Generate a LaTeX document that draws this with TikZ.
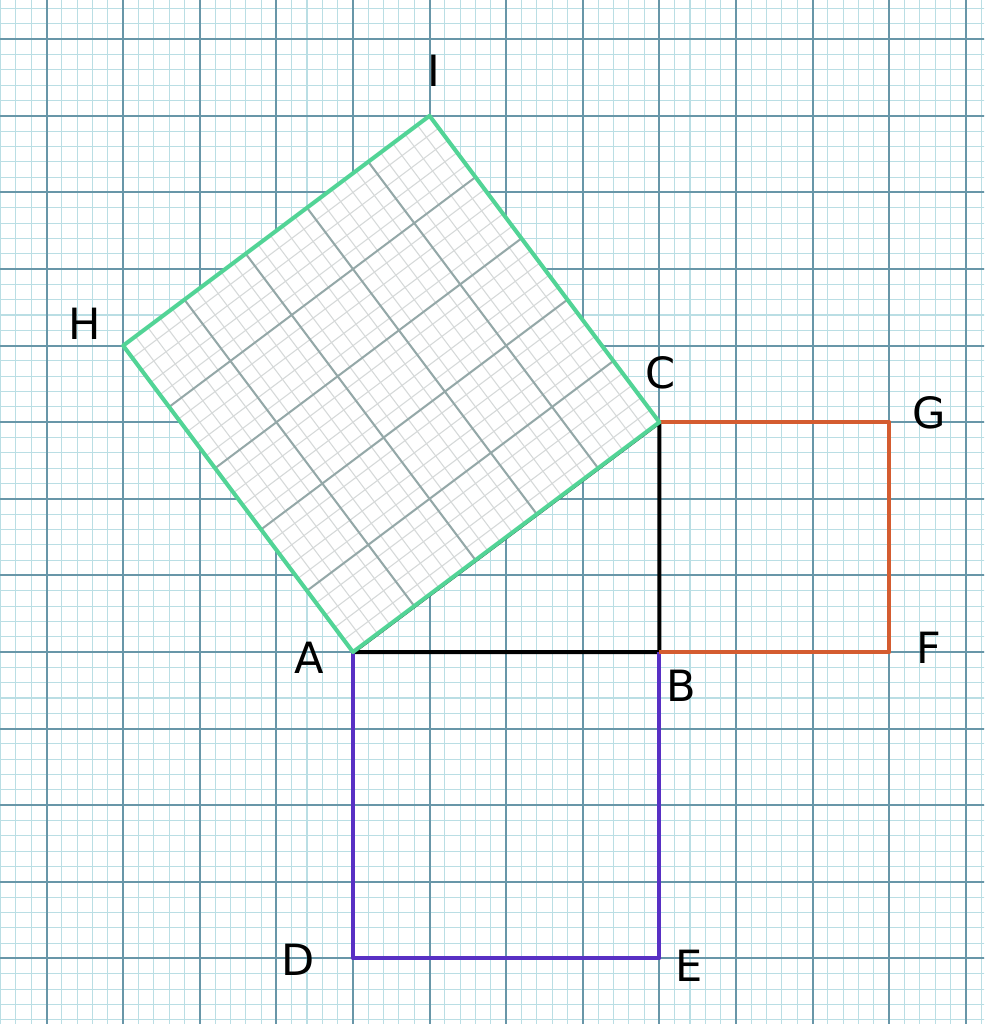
\documentclass[tikz,border=0pt]{standalone}
\usepackage{fontspec}
\setmainfont{DejaVu Sans}
\usepackage{tikz}
\usetikzlibrary{positioning, calc}
\definecolor{minorcyan}{RGB}{186,222,228}
\definecolor{majorteal}{RGB}{104,150,168}
\definecolor{minorgray}{RGB}{214,217,217}
\definecolor{majorgray}{RGB}{148,168,168}
\definecolor{sqgreen}{RGB}{82,212,150}
\definecolor{sqpurple}{RGB}{88,48,196}
\definecolor{sqorange}{RGB}{212,92,48}
\tikzset{
  vertex/.style={font=\fontsize{16}{16}\selectfont, inner sep=0pt},
  side/.style={line width=1.5pt, line join=round},
  minorline/.style={line width=0.4pt},
  majorline/.style={line width=0.75pt},
}

\begin{document}
\begin{tikzpicture}
  \useasboundingbox (-4.608,-4.856) rectangle (8.238,8.512);
  \clip (-4.608,-4.856) rectangle (8.238,8.512);
  % graph paper
  \fill[white] (-4.608,-4.856) rectangle (8.238,8.512);
  \foreach \k in {-24,...,42} {
    \draw[minorcyan, minorline] (\k/5,-5) -- (\k/5,8.6);
  }
  \foreach \k in {-25,...,43} {
    \draw[minorcyan, minorline] (-4.8,\k/5) -- (8.4,\k/5);
  }
  \foreach \k in {-4,...,8} {
    \draw[majorteal, majorline] (\k,-5) -- (\k,8.6);
  }
  \foreach \k in {-4,...,8} {
    \draw[majorteal, majorline] (-4.8,\k) -- (8.4,\k);
  }

  % corners
  \coordinate (A) at (0,0);
  \coordinate (B) at (4,0);
  \coordinate (C) at (4,3);
  \coordinate (D) at (0,-4);
  \coordinate (E) at (4,-4);
  \coordinate (F) at (7,0);
  \coordinate (G) at (7,3);
  \coordinate (H) at (-3,4);
  \coordinate (I) at (1,7);

  % right triangle and the two small squares
  \draw[side, black] (A) -- (B) -- (C) -- cycle;
  \draw[side, sqpurple] (A) -- (D) -- (E) -- (B);
  \draw[side, sqorange] (B) -- (F) -- (G) -- (C);

  % square on the hypotenuse
  \begin{scope}[rotate={atan(3/4)}]
    \fill[white] (0,0) rectangle (5,5);
    \foreach \k in {1,...,24} {
      \draw[minorgray, minorline] (\k/5,0) -- (\k/5,5);
      \draw[minorgray, minorline] (0,\k/5) -- (5,\k/5);
    }
    \foreach \k in {1,...,4} {
      \draw[majorgray, majorline] (\k,0) -- (\k,5);
      \draw[majorgray, majorline] (0,\k) -- (5,\k);
    }
  \end{scope}
  \draw[side, sqgreen] (A) -- (C) -- (I) -- (H) -- cycle;

  % labels
  \node[vertex] (labA) at (-0.57,-0.07) {A};
  \node[vertex] (labB) at (4.28,-0.44) {B};
  \node[vertex] (labC) at (4.02,3.64) {C};
  \node[vertex] (labD) at (-0.72,-4.02) {D};
  \node[vertex] (labE) at (4.39,-4.09) {E};
  \node[vertex] (labF) at (7.52,0.05) {F};
  \node[vertex] (labG) at (7.52,3.12) {G};
  \node[vertex] (labH) at (-3.50,4.29) {H};
  \node[vertex] (labI) at (1.06,7.59) {I};
\end{tikzpicture}
\end{document}
